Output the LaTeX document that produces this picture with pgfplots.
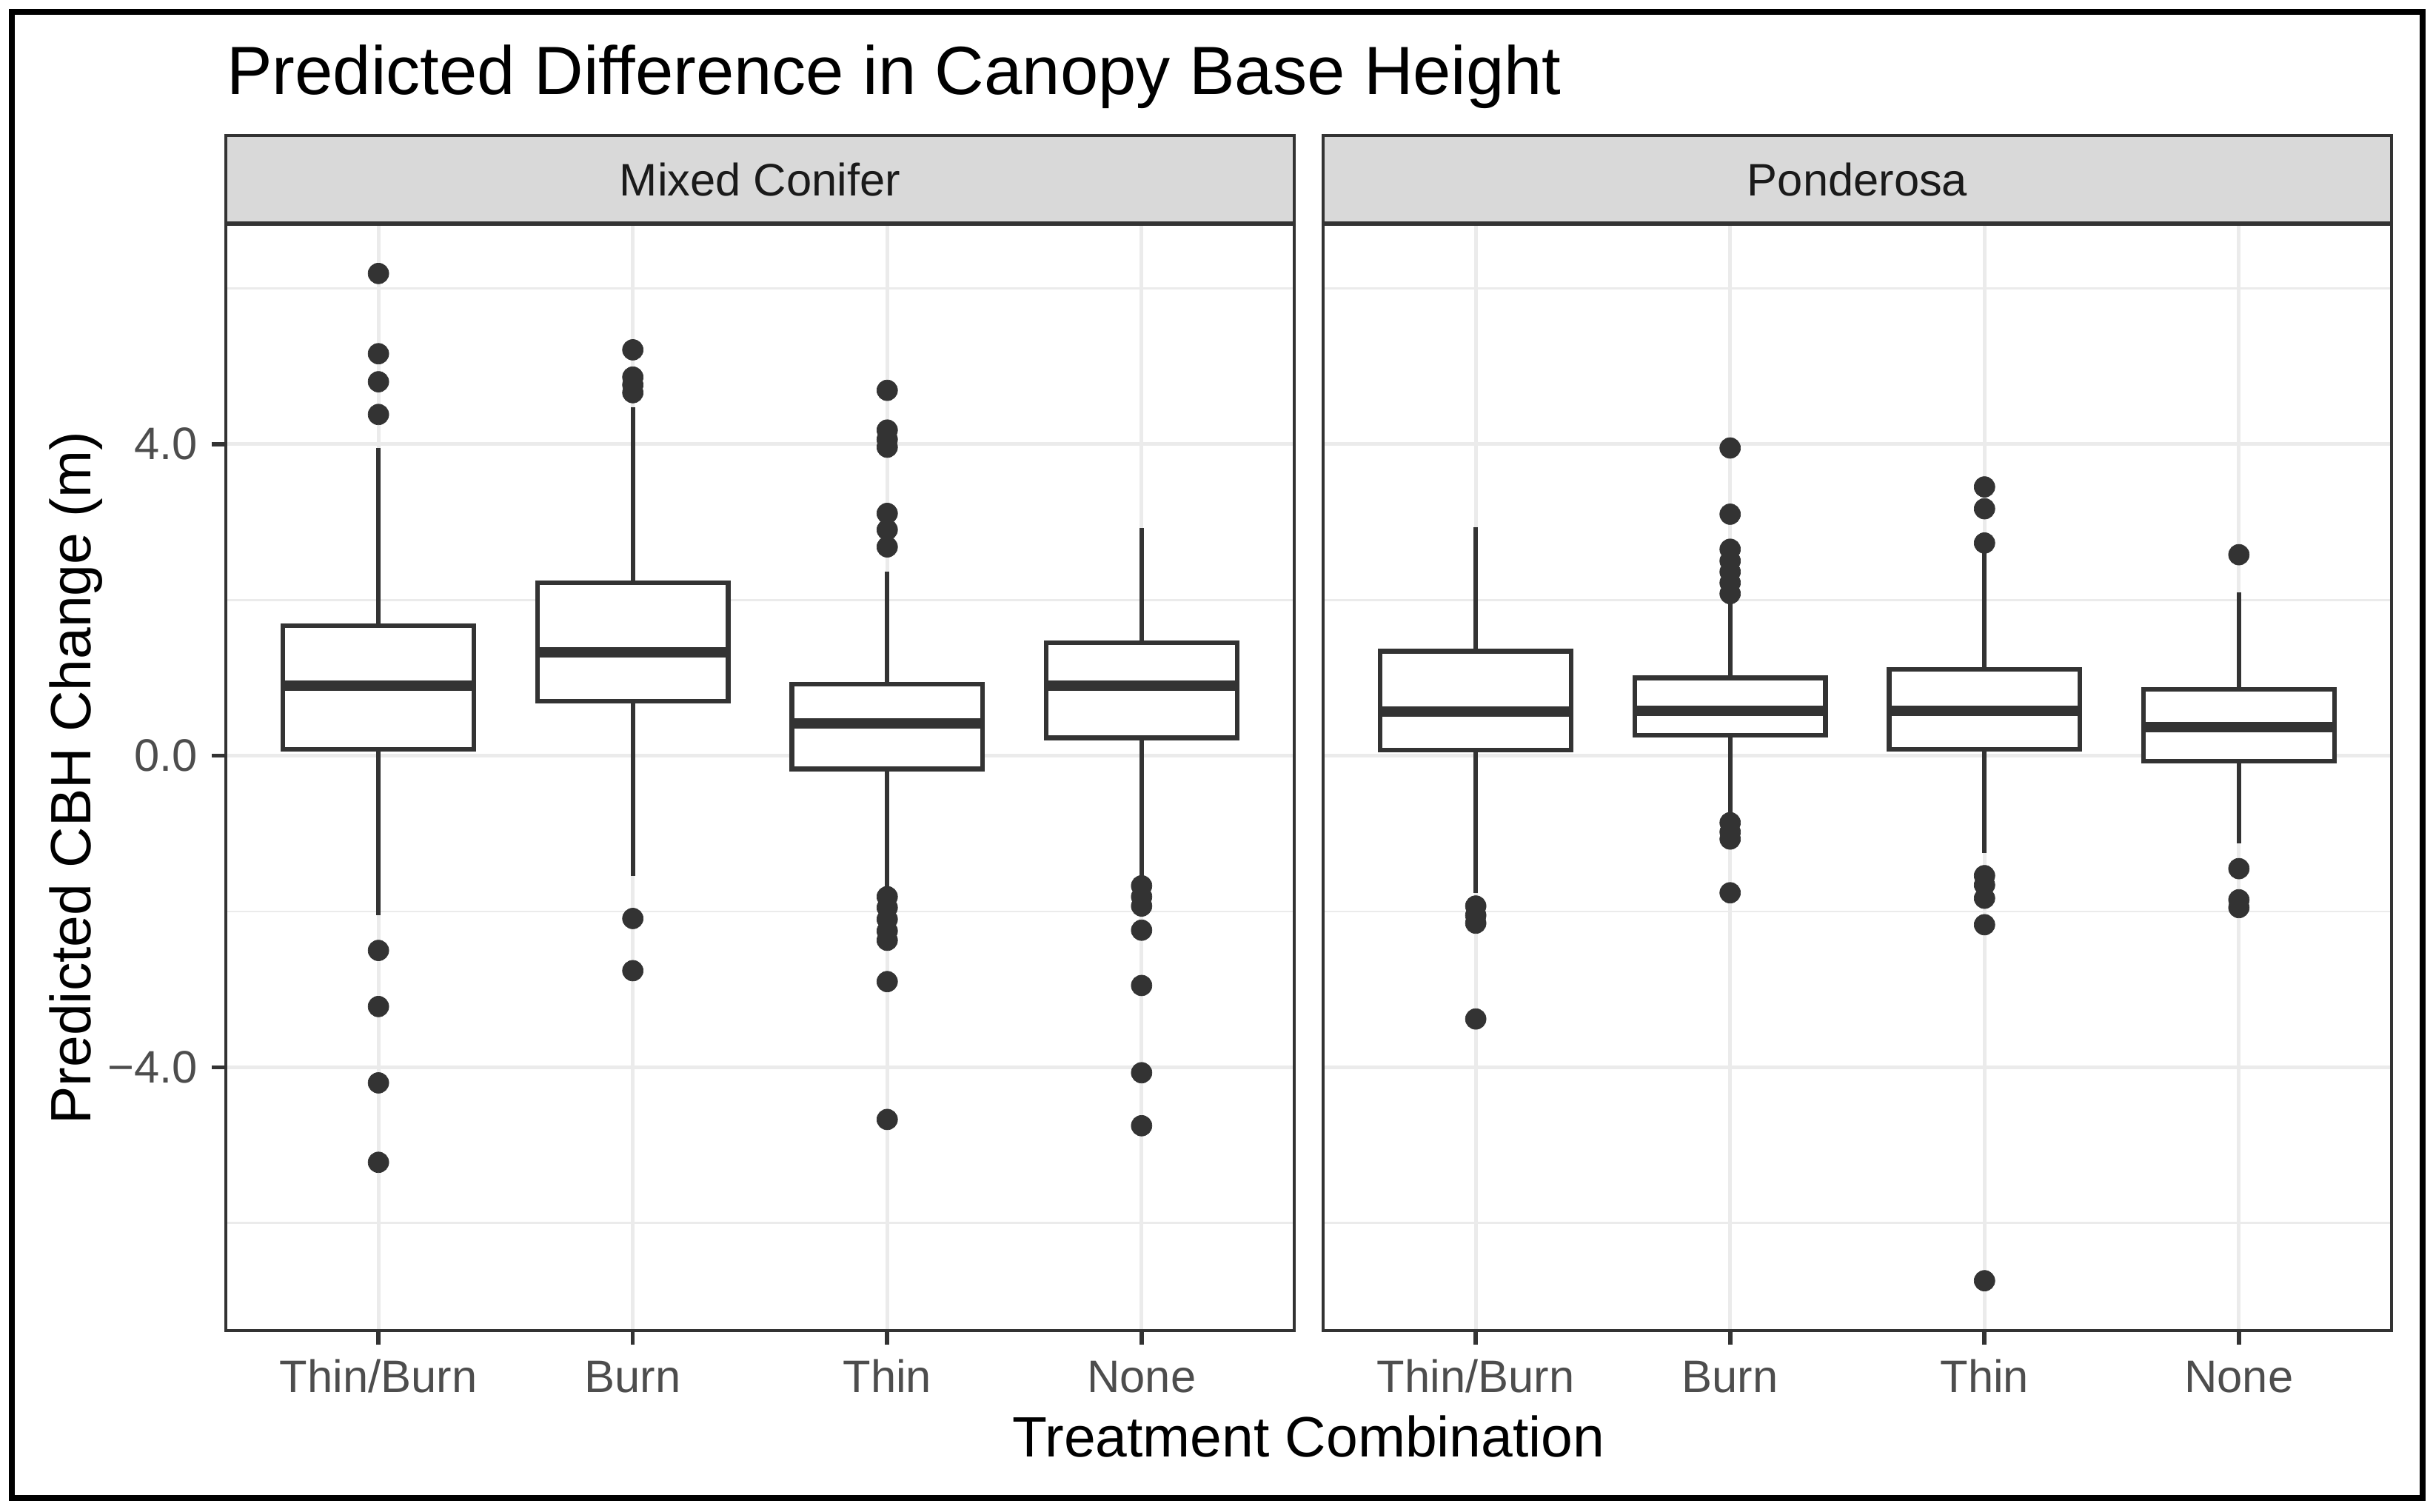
\documentclass[border=0pt]{standalone}
\usepackage{fontspec}
\setmainfont{Liberation Sans}
\usepackage{pgfplots}
\pgfplotsset{compat=1.18}
\usepgfplotslibrary{statistics}

\definecolor{grey10}{HTML}{1A1A1A}
\definecolor{grey20}{HTML}{333333}
\definecolor{grey30}{HTML}{4D4D4D}
\definecolor{grey85}{HTML}{D9D9D9}
\definecolor{grey92}{HTML}{EBEBEB}

\pgfplotsset{
  panel/.style={
    scale only axis,
    width=206.57pt, height=214.01pt,
    xmin=0.4, xmax=4.6, ymin=-7.38, ymax=6.83,
    xtick={1,2,3,4}, xticklabels={Thin/Burn,Burn,Thin,None},
    ytick={-4,0,4}, minor ytick={-6,-2,2,6},
    xmajorgrids, ymajorgrids, yminorgrids,
    major grid style={grey92, line width=0.75pt},
    minor grid style={grey92, line width=0.4pt},
    axis line style={grey20, line width=0.65pt},
    tick align=outside, major tick length=2.75pt, minor tick length=0pt,
    tick style={grey20, line width=0.8pt},
    xtick pos=bottom, ytick pos=left,
    /pgf/number format/assume math mode=true,
    ticklabel style={font=\fontsize{8.8}{10}\selectfont, text=grey30},
    xticklabel style={anchor=base, yshift=-9.2pt},
    yticklabel style={anchor=east, inner sep=0pt, xshift=-2.5pt},
    boxplot/draw direction=y,
    boxplot/box extend=0.75,
    boxplot/whisker extend=0,
    boxplot/every box/.style={draw=grey20, fill=white, line width=0.9pt},
    boxplot/every whisker/.style={draw=grey20, line width=0.9pt},
    boxplot/every median/.style={draw=grey20, line width=2pt},
  },
  bx/.style={draw=grey20, mark=*, mark size=2pt,
    mark options={fill=grey20, draw=grey20, solid, line width=0.1pt}},
}

\begin{document}
\begin{tikzpicture}
\path[use as bounding box] (0,0) rectangle (470.4pt,-292.2pt);

% Mixed Conifer
\begin{axis}[panel, name=L, at={(43.66pt,-257.24pt)}, anchor=south west,
  yticklabels={−4.0,0.0,4.0}]
\addplot[bx, boxplot prepared={draw position=1, lower whisker=-2.05,
  lower quartile=0.08, median=0.90, upper quartile=1.67, upper whisker=3.95}]
  coordinates {(1,6.19) (1,5.16) (1,4.80) (1,4.38) (1,-2.50) (1,-3.22) (1,-4.20) (1,-5.22)};
\addplot[bx, boxplot prepared={draw position=2, lower whisker=-1.54,
  lower quartile=0.70, median=1.33, upper quartile=2.22, upper whisker=4.47}]
  coordinates {(2,5.21) (2,4.86) (2,4.76) (2,4.66) (2,-2.09) (2,-2.76)};
\addplot[bx, boxplot prepared={draw position=3, lower whisker=-1.71,
  lower quartile=-0.17, median=0.41, upper quartile=0.92, upper whisker=2.36}]
  coordinates {(3,4.69) (3,4.18) (3,4.06) (3,3.96) (3,3.11) (3,2.90) (3,2.68)
    (3,-1.81) (3,-1.95) (3,-2.10) (3,-2.25) (3,-2.37) (3,-2.90) (3,-4.67)};
\addplot[bx, boxplot prepared={draw position=4, lower whisker=-1.57,
  lower quartile=0.23, median=0.90, upper quartile=1.45, upper whisker=2.92}]
  coordinates {(4,-1.67) (4,-1.81) (4,-1.93) (4,-2.24) (4,-2.95) (4,-4.07) (4,-4.75)};
\end{axis}

% Ponderosa
\begin{axis}[panel, name=R, at={(255.81pt,-257.24pt)}, anchor=south west,
  yticklabels={}, major y tick style={draw=none}]
\addplot[bx, boxplot prepared={draw position=1, lower whisker=-1.76,
  lower quartile=0.07, median=0.57, upper quartile=1.34, upper whisker=2.93}]
  coordinates {(1,-1.93) (1,-2.05) (1,-2.15) (1,-3.38)};
\addplot[bx, boxplot prepared={draw position=2, lower whisker=-0.79,
  lower quartile=0.26, median=0.58, upper quartile=1.00, upper whisker=2.00}]
  coordinates {(2,3.95) (2,3.10) (2,2.65) (2,2.50) (2,2.36) (2,2.22) (2,2.08)
    (2,-0.86) (2,-0.98) (2,-1.07) (2,-1.76)};
\addplot[bx, boxplot prepared={draw position=3, lower whisker=-1.25,
  lower quartile=0.08, median=0.58, upper quartile=1.11, upper whisker=2.63}]
  coordinates {(3,3.45) (3,3.17) (3,2.73) (3,-1.54) (3,-1.66) (3,-1.83) (3,-2.17) (3,-6.74)};
\addplot[bx, boxplot prepared={draw position=4, lower whisker=-1.13,
  lower quartile=-0.07, median=0.37, upper quartile=0.85, upper whisker=2.10}]
  coordinates {(4,2.58) (4,-1.45) (4,-1.85) (4,-1.95)};
\end{axis}

% facet strips
\draw[grey20, fill=grey85, line width=0.5pt] (L.north west) rectangle ([yshift=17.03pt]L.north east);
\draw[grey20, fill=grey85, line width=0.5pt] (R.north west) rectangle ([yshift=17.03pt]R.north east);
\draw[grey20, line width=0.8pt] (L.north west) -- (L.north east);
\draw[grey20, line width=0.8pt] (R.north west) -- (R.north east);
\node[text=grey10, font=\fontsize{8.8}{10}\selectfont] at ([yshift=8.5pt]L.north) {Mixed Conifer};
\node[text=grey10, font=\fontsize{8.8}{10}\selectfont] at ([yshift=8.5pt]R.north) {Ponderosa};

% titles
\node[anchor=base west, inner sep=0pt, font=\fontsize{13.2}{15}\selectfont] at (43.66pt,-18.18pt)
  {Predicted Difference in Canopy Base Height};
\node[anchor=base, inner sep=0pt, font=\fontsize{11}{13}\selectfont] at (253.0pt,-281.6pt)
  {Treatment Combination};
\node[rotate=90, anchor=base, inner sep=0pt, font=\fontsize{11}{13}\selectfont] at (17.5pt,-150.4pt)
  {Predicted CBH Change (m)};

% outer frame
\draw[black, line width=1.1pt] (2.29pt,-2.29pt) rectangle (468.4pt,-289.6pt);
\end{tikzpicture}
\end{document}
